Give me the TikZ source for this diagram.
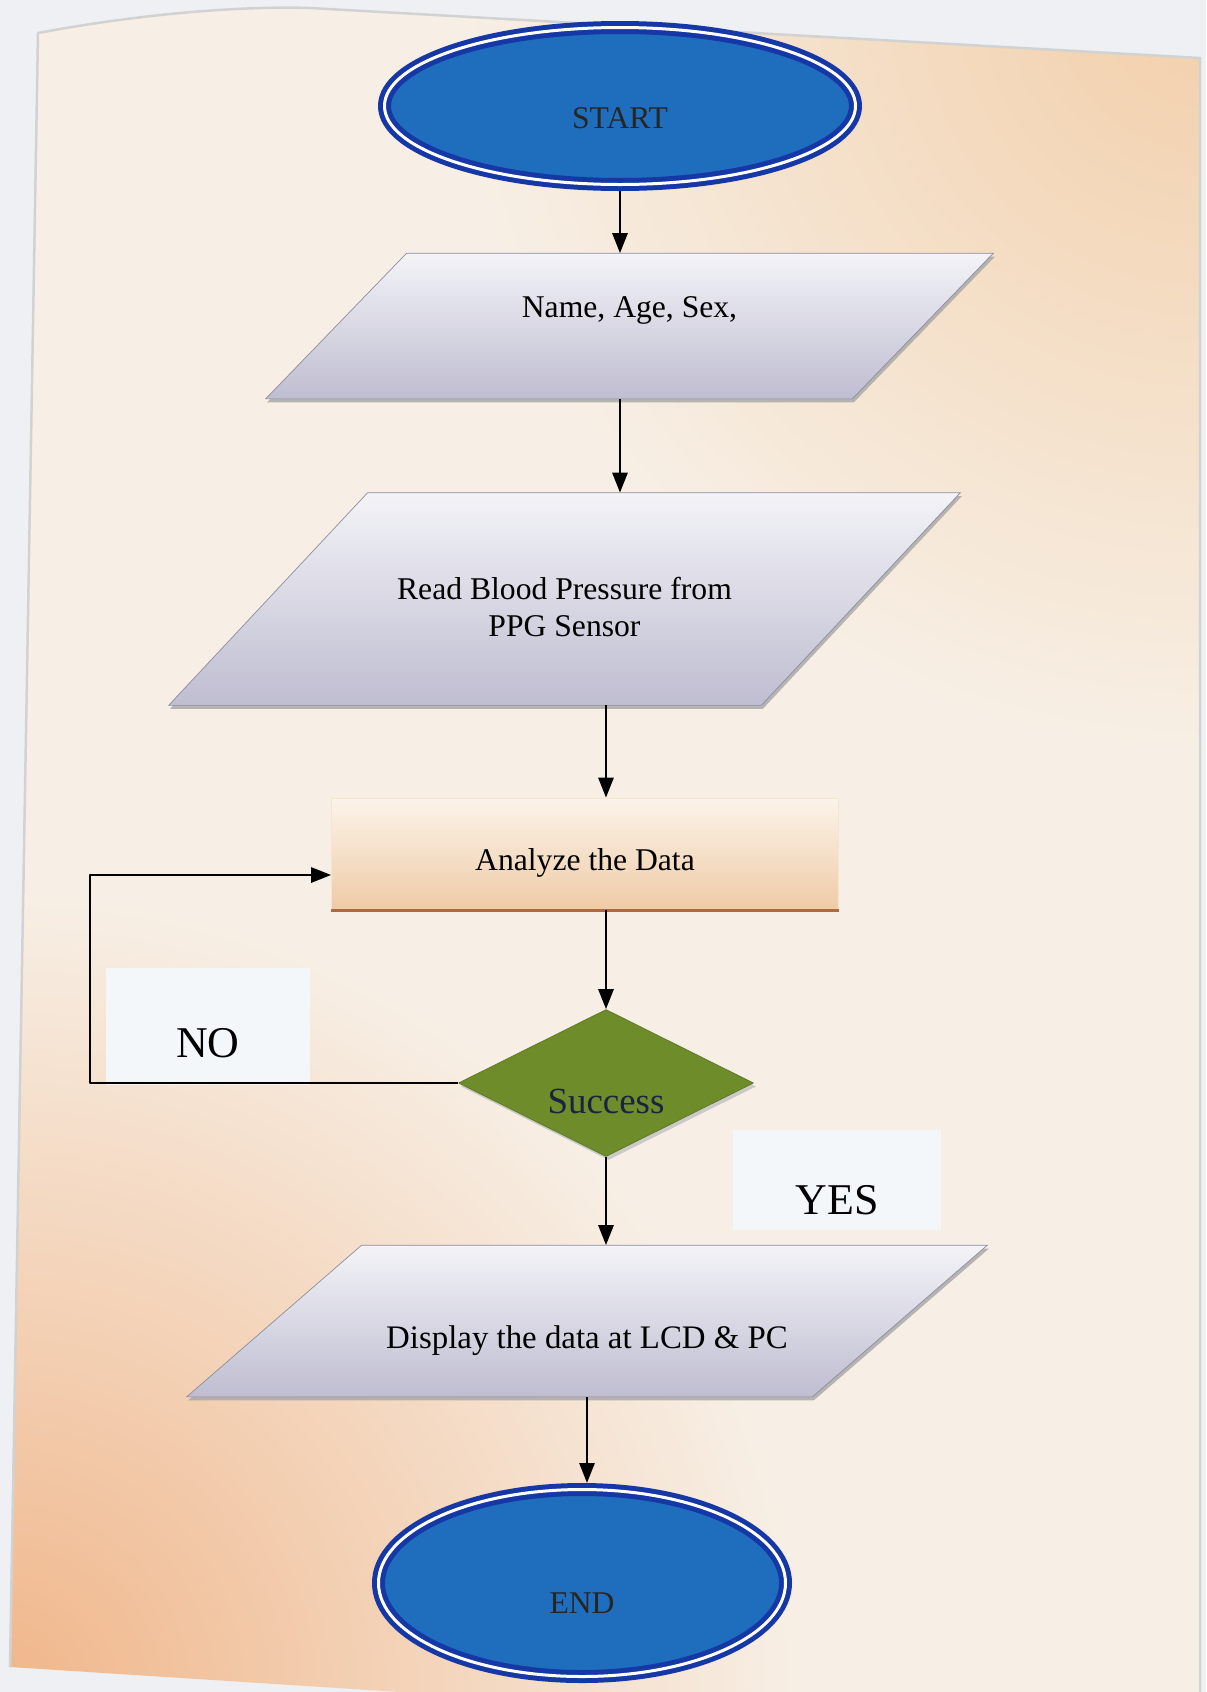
\documentclass[tikz,border=0pt]{standalone}
\usepackage{fontspec}
\setmainfont{Liberation Serif}
\usetikzlibrary{shapes.geometric,arrows.meta,shadows,backgrounds}
\definecolor{outside}{HTML}{EEF0F3}
\definecolor{paper}{HTML}{F7EFE5}
\definecolor{paperorange}{HTML}{F0B68A}
\definecolor{paperpeach}{HTML}{F2CFAA}
\definecolor{ovalfill}{HTML}{1F6DBD}
\definecolor{ovalring}{HTML}{1538A6}
\definecolor{iotop}{HTML}{F3F3F8}
\definecolor{iobot}{HTML}{BFBDD0}
\definecolor{ioline}{HTML}{8E8C9E}
\definecolor{proctop}{HTML}{FBF4EA}
\definecolor{procbot}{HTML}{EFCBA6}
\definecolor{procedge}{HTML}{B0693C}
\definecolor{decgreen}{HTML}{6F8C2B}
\definecolor{decline}{HTML}{5C7622}
\definecolor{dectext}{HTML}{1B2342}
\definecolor{tagfill}{HTML}{F4F7FA}
\begin{document}
\begin{tikzpicture}[x=0.2mm,y=-0.2mm,>={Triangle[length=4mm,width=3mm]},
	font=\fontsize{18}{21}\selectfont, line join=round,
	oval/.style={ellipse, fill=ovalfill, draw=ovalring, line width=1mm, double=white, double distance=0.6mm, outer sep=1.3mm, text=black!85, inner sep=0pt},
	iobox/.style={rectangle, inner sep=0pt, align=center},
	ioshade/.style={top color=iotop, bottom color=iobot, draw=ioline, line width=0.4pt, drop shadow={shadow xshift=0.3mm, shadow yshift=-0.7mm, fill=gray!70, opacity=.8}},
	procbox/.style={rectangle, top color=proctop, bottom color=procbot, draw=proctop!60!procbot, line width=0.4pt, inner sep=0pt},
	decbox/.style={diamond, aspect=2, fill=decgreen, draw=decline, line width=0.4pt, inner sep=0pt, text=dectext, font=\fontsize{21}{24}\selectfont, drop shadow={shadow xshift=0.5mm, shadow yshift=-0.7mm, fill=gray!45, opacity=.9}},
	tagbox/.style={rectangle, fill=tagfill, inner sep=0pt, text depth=0pt, font=\fontsize{25}{28}\selectfont},
	flow/.style={->, line width=0.55mm}]
	\def\ioshape#1#2{\draw[ioshade] ([xshift=#2]#1.north west) -- (#1.north east) -- ([xshift=-#2]#1.south east) -- (#1.south west) -- cycle;}
	\useasboundingbox (0,0) rectangle (1206,1692);
	% nodes
	\node[oval, minimum width=94.2mm, minimum height=31.4mm, text height=9mm, text depth=0pt] (start) at (620,106) {START};
	\node[iobox, minimum width=145.4mm, minimum height=29mm, text height=4.5mm, text depth=7.9mm] (p1) at (629.5,326) {Name, Age, Sex,};
	\node[iobox, minimum width=158.2mm, minimum height=42.4mm, text height=14.8mm, text depth=0pt] (p2) at (564.5,599) {Read Blood Pressure from\\PPG Sensor};
	\node[procbox, minimum width=101.4mm, minimum height=22.4mm, text height=6.6mm, text depth=0pt] (proc) at (585,854) {Analyze the Data};
	\draw[procedge, line width=0.6mm] (proc.south west) -- (proc.south east);
	\node[decbox, minimum width=59mm, minimum height=29.4mm, text height=12mm, text depth=0pt] (dec) at (606,1083) {Success};
	\node[iobox, minimum width=160mm, minimum height=30.2mm, text height=11mm, text depth=0pt, font=\fontsize{18.7}{21}\selectfont] (p3) at (587,1321) {Display the data at LCD \& PC};
	\node[oval, minimum width=81.4mm, minimum height=37.4mm, text height=12.2mm, text depth=0pt] (stop) at (582,1583) {END};
	\node[tagbox, minimum width=40.6mm, minimum height=23.4mm, text height=12.6mm] (no) at (208,1026) {NO};
	\node[tagbox, minimum width=41.6mm, minimum height=20mm, text height=13.8mm] (yes) at (837,1180) {YES};
	% paper and parallelograms
	\begin{pgfonlayer}{background}
		\fill[outside] (0,0) rectangle (1206,1692);
		\begin{scope}
			\clip (38,33) .. controls (150,12) and (250,6) .. (310,8) -- (1200,58) -- (1200,1692) -- (400,1692) -- (10,1667) -- cycle;
			\fill[paper] (0,0) rectangle (1206,1692);
			\shade[inner color=paperorange, outer color=paper] (0,1692) circle (160mm);
			\shade[inner color=paperpeach, outer color=paper] (1206,0) circle (150mm);
		\end{scope}
		\draw[gray!35, line width=0.5mm] (10,1667) -- (38,33) .. controls (150,12) and (250,6) .. (310,8) -- (1200,58) -- (1200,1692);
		\ioshape{p1}{28.2mm}
		\ioshape{p2}{39.8mm}
		\ioshape{p3}{35mm}
	\end{pgfonlayer}
	% arrows
	\draw[flow] (start) -- (start |- p1.north);
	\draw[flow] (p1.south -| start) -- (start |- p2.north);
	\draw[flow] (p2.south -| dec) -- (proc.north -| dec);
	\draw[flow] (proc.south -| dec) -- (dec);
	\draw[flow] (dec) -- (dec |- p3.north);
	\draw[flow] (p3) -- (p3 |- stop.north);
	\coordinate (loopx) at (90,0);
	\draw[flow] (dec.west) -- (dec.west -| loopx) |- ([yshift=-4.2mm]proc.west);
\end{tikzpicture}
\end{document}
